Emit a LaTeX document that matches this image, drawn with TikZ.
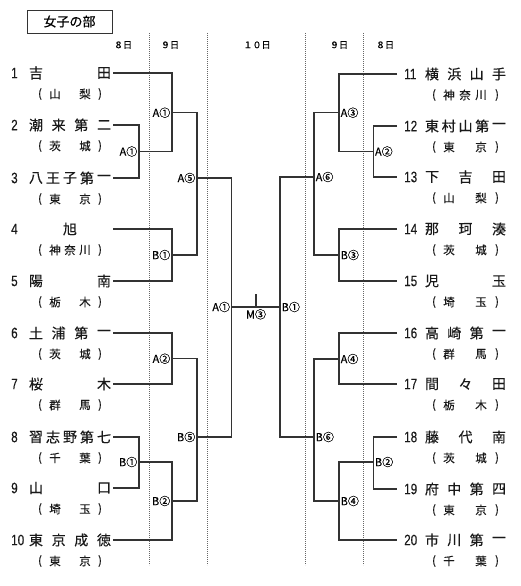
\documentclass[tikz,border=0pt]{standalone}
\usepackage{fontspec}
\setmainfont[FakeBold=0.3]{Noto Sans CJK JP}
\newfontfamily\numfont[FakeStretch=0.78,FakeBold=0.3]{Liberation Sans}
\newcommand\spreadtext[7]{% #1 style, #2 x0, #3 x1, #4 y, #5 n, #6 list, #7 name
  \ifnum#5=1
    \node[#1] (#7-0) at ({(#2+#3)/2},#4) {#6};
  \else
    \foreach \c [count=\k from 0] in {#6}
      {\node[#1] (#7-\k) at ({#2+(#3-#2)*\k/(#5-1)},#4) {\c};}
  \fi}
\newcommand\teamL[6]{%
  \node[num] (nL#1) at (11,#2) {#1};
  \spreadtext{nm}{36}{104}{#2}{#3}{#4}{tL#1}
  \spreadtext{pf}{55}{85}{#2+21}{#5}{#6}{pL#1}
  \node[pf] (oL#1) at (40,#2+21) {(};
  \node[pf] (cL#1) at (100,#2+21) {)};
  \coordinate (L#1) at (113,#2);}
\newcommand\teamR[6]{%
  \node[num] (nR#1) at (404,#2) {#1};
  \spreadtext{nm}{432}{499}{#2}{#3}{#4}{tR#1}
  \spreadtext{pf}{449}{481}{#2+21}{#5}{#6}{pR#1}
  \node[pf] (oR#1) at (434,#2+21) {(};
  \node[pf] (cR#1) at (497,#2+21) {)};
  \coordinate (R#1) at (397,#2);}
\tikzset{
  br/.style={line width=1.1pt, draw=black!80},
  dotl/.style={line width=0.7pt, draw=black!60, dash pattern=on 0.8pt off 1.2pt},
  nm/.style={font=\fontsize{14}{14}\selectfont, inner sep=0pt, text=black!90},
  pf/.style={font=\fontsize{11.5}{11.5}\selectfont, inner sep=0pt, text=black!90},
  num/.style={font=\numfont\fontsize{15}{15}\selectfont, inner sep=0pt, anchor=west, text=black!90},
  lbL/.style={font=\fontsize{11}{11}\selectfont, inner sep=0pt, anchor=east, xshift=-1.5pt},
  lbR/.style={font=\fontsize{11}{11}\selectfont, inner sep=0pt, anchor=west, xshift=1.5pt},
  day/.style={font=\fontsize{9}{9}\selectfont, inner sep=0pt},
}
\begin{document}
\begin{tikzpicture}[x=1pt,y=-1pt]
\useasboundingbox (0,0) rectangle (520,586);
% title
\node[draw=black!80, line width=0.9pt, minimum width=85pt, minimum height=23pt, font=\fontsize{13}{13}\selectfont] (title) at (69.5,21.5) {女子の部};
% dotted day separators
\coordinate (d1t) at (149,33); \coordinate (d1b) at (149,565);
\coordinate (d2t) at (207,33); \coordinate (d2b) at (207,565);
\coordinate (d3t) at (305,33); \coordinate (d3b) at (305,565);
\coordinate (d4t) at (363,33); \coordinate (d4b) at (363,565);
\draw[dotl] (d1t) -- (d1b);
\draw[dotl] (d2t) -- (d2b);
\draw[dotl] (d3t) -- (d3b);
\draw[dotl] (d4t) -- (d4b);
% day labels
\node[day] (day1) at (123,45) {８日};
\node[day] (day2) at (170,45) {９日};
\node[day] (day3) at (257,45) {１０日};
\node[day] (day4) at (339,45) {９日};
\node[day] (day5) at (385,45) {８日};
% teams left
\teamL{1}{73}{2}{吉,田}{2}{山,梨}
\teamL{2}{125}{4}{潮,来,第,二}{2}{茨,城}
\teamL{3}{178}{5}{八,王,子,第,一}{2}{東,京}
\teamL{4}{229}{1}{旭}{3}{神,奈,川}
\teamL{5}{281}{2}{陽,南}{2}{栃,木}
\teamL{6}{333}{4}{土,浦,第,一}{2}{茨,城}
\teamL{7}{384}{2}{桜,木}{2}{群,馬}
\teamL{8}{437}{5}{習,志,野,第,七}{2}{千,葉}
\teamL{9}{488}{2}{山,口}{2}{埼,玉}
\teamL{10}{540}{4}{東,京,成,徳}{2}{東,京}
% teams right
\teamR{11}{74}{4}{横,浜,山,手}{3}{神,奈,川}
\teamR{12}{126}{5}{東,村,山,第,一}{2}{東,京}
\teamR{13}{177}{3}{下,吉,田}{2}{山,梨}
\teamR{14}{229}{3}{那,珂,湊}{2}{茨,城}
\teamR{15}{281}{2}{児,玉}{2}{埼,玉}
\teamR{16}{333}{4}{高,崎,第,一}{2}{群,馬}
\teamR{17}{384}{3}{間,々,田}{2}{栃,木}
\teamR{18}{437}{3}{藤,代,南}{2}{茨,城}
\teamR{19}{489}{4}{府,中,第,四}{2}{東,京}
\teamR{20}{540}{4}{市,川,第,一}{2}{千,葉}
% left bracket points
\coordinate (p1) at (139,151.5);
\coordinate (q1) at (172,112.7);
\coordinate (q2) at (172,255);
\coordinate (r1) at (197,178);
\coordinate (q3) at (172,358.7);
\coordinate (p2) at (139,462);
\coordinate (q4) at (172,501);
\coordinate (r2) at (197,437);
\coordinate (s1) at (231.7,307);
% right bracket points
\coordinate (rp1) at (373.3,151.5);
\coordinate (rq1) at (339,112.7);
\coordinate (rr1) at (314,177);
\coordinate (rq2) at (339,255);
\coordinate (rq3) at (339,359);
\coordinate (rp2) at (373.3,462);
\coordinate (rq4) at (339,501);
\coordinate (rr2) at (314,437);
\coordinate (s2) at (280,307);
\coordinate (mt) at (256,307);
\coordinate (mtop) at (256,294);
% left brackets
\draw[br] (L2) -| (p1) |- (L3);
\draw[br] (L1) -| (q1) |- (p1);
\draw[br] (L4) -| (q2) |- (L5);
\draw[br] (q1) -| (r1) |- (q2);
\draw[br] (L6) -| (q3) |- (L7);
\draw[br] (L8) -| (p2) |- (L9);
\draw[br] (p2) -| (q4) |- (L10);
\draw[br] (q3) -| (r2) |- (q4);
\draw[br] (r1) -| (s1) |- (r2);
% final
\draw[br] (s1) -- (s2);
\draw[br] (mt) -- (mtop);
% right brackets
\draw[br] (R12) -| (rp1) |- (R13);
\draw[br] (R11) -| (rq1) |- (rp1);
\draw[br] (R14) -| (rq2) |- (R15);
\draw[br] (rq1) -| (rr1) |- (rq2);
\draw[br] (R16) -| (rq3) |- (R17);
\draw[br] (R18) -| (rp2) |- (R19);
\draw[br] (rp2) -| (rq4) |- (R20);
\draw[br] (rq3) -| (rr2) |- (rq4);
\draw[br] (rr1) -| (s2) |- (rr2);
% match labels left
\node[lbL] (lp1) at (p1) {A①};
\node[lbL] (lq1) at (q1) {A①};
\node[lbL] (lq2) at (q2) {B①};
\node[lbL] (lr1) at (r1) {A⑤};
\node[lbL] (lq3) at (q3) {A②};
\node[lbL] (lp2) at (p2) {B①};
\node[lbL] (lq4) at (q4) {B②};
\node[lbL] (lr2) at (r2) {B⑤};
\node[lbL] (ls1) at (s1) {A①};
% match labels right
\node[lbR] (ls2) at (s2) {B①};
\node[lbR] (lrp1) at (rp1) {A②};
\node[lbR] (lrq1) at (rq1) {A③};
\node[lbR] (lrr1) at (rr1) {A⑥};
\node[lbR] (lrq2) at (rq2) {B③};
\node[lbR] (lrq3) at (rq3) {A④};
\node[lbR] (lrp2) at (rp2) {B②};
\node[lbR] (lrq4) at (rq4) {B④};
\node[lbR] (lrr2) at (rr2) {B⑥};
\node[font=\fontsize{11}{11}\selectfont, inner sep=0pt, anchor=north] (lm) at (256,309) {M③};
\end{tikzpicture}
\end{document}
